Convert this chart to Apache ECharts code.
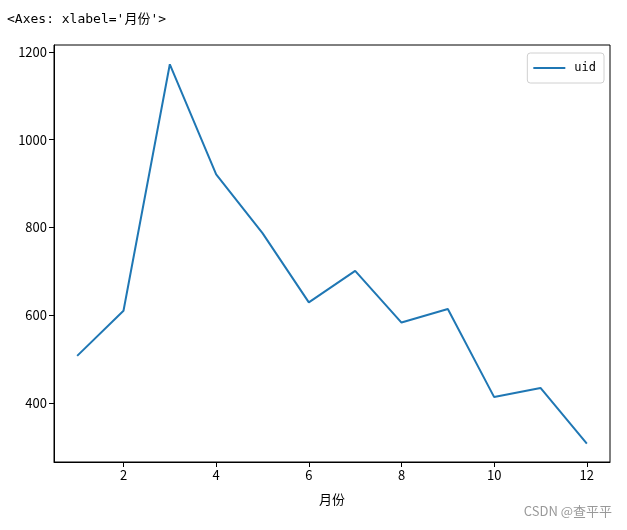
<!DOCTYPE html>
<html>
<head>
<meta charset="utf-8">
<script src="https://cdn.jsdelivr.net/npm/echarts@6/dist/echarts.min.js"></script>
<style>html,body{margin:0;padding:0;background:#fff;}#c{width:627px;height:530px;}</style>
</head>
<body>
<div id="c"></div>
<script>
var months = [1,2,3,4,5,6,7,8,9,10,11,12];
var uid = [507,610,1172,921,787,629,701,583,614,413,434,307];
var xTicks = [2,4,6,8,10,12];
var yTicks = [400,600,800,1000,1200];

var chart = echarts.init(document.getElementById('c'));
var font = '"Noto Sans CJK SC", "DejaVu Sans", sans-serif';
function plain(v){ return String(v); }
chart.setOption({
  animation: false,
  backgroundColor: '#fff',
  title: {
    text: "<Axes: xlabel='月份'>",
    left: 2, top: 8,
    textStyle: {fontFamily: '"DejaVu Sans Mono", "Noto Sans CJK SC", monospace', fontSize: 13, fontWeight: 'normal', color: '#000'}
  },
  graphic: [{
    type: 'text', right: 15, top: 505,
    style: {text: 'CSDN @查平平', fontFamily: font, fontSize: 13, fill: '#999'}
  }],
  legend: {
    right: 23, top: 53,
    data: [{name: 'uid', icon: 'rect'}],
    itemWidth: 32, itemHeight: 2, itemGap: 8,
    padding: [9, 8, 9, 6],
    borderColor: '#d0d0d0', borderWidth: 1, borderRadius: 3,
    textStyle: {fontFamily: '"DejaVu Sans Mono", monospace', fontSize: 12, color: '#000', padding: [0,0,0,4]}
  },
  grid: {left: 54, right: 17, top: 45, bottom: 68, show: true, borderColor: '#000', borderWidth: 1, backgroundColor: 'transparent'},
  xAxis: {
    type: 'value', min: 0.5, max: 12.5,
    name: '月份', nameLocation: 'middle', nameGap: 31,
    nameTextStyle: {fontFamily: font, fontSize: 13, color: '#000'},
    axisLine: {show: true, lineStyle: {color: '#000', width: 1}},
    axisTick: {show: true, length: 5, inside: false, customValues: xTicks, lineStyle: {color: '#000'}},
    axisLabel: {customValues: xTicks, formatter: plain, fontFamily: font, fontSize: 13, color: '#000', margin: 7},
    splitLine: {show: false}
  },
  yAxis: {
    type: 'value', min: 265, max: 1216,
    axisLine: {show: true, lineStyle: {color: '#000', width: 1}},
    axisTick: {show: true, length: 5, inside: false, customValues: yTicks, lineStyle: {color: '#000'}},
    axisLabel: {customValues: yTicks, formatter: plain, fontFamily: font, fontSize: 13, color: '#000', margin: 7},
    splitLine: {show: false}
  },
  series: [{
    name: 'uid', type: 'line',
    data: months.map(function(m, i){ return [m, uid[i]]; }),
    showSymbol: false, symbol: 'none',
    lineStyle: {color: '#1f77b4', width: 2},
    itemStyle: {color: '#1f77b4'}
  }]
});
</script>
</body>
</html>
